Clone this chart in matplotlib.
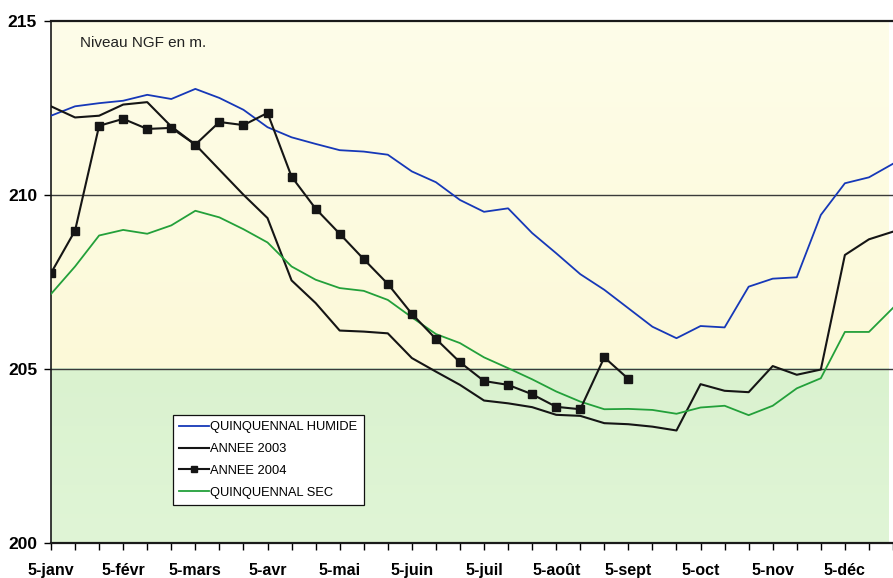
import matplotlib
matplotlib.use("Agg")
import matplotlib.pyplot as plt
import numpy as np
from matplotlib.colors import LinearSegmentedColormap

plt.rcParams['font.family'] = ['Liberation Sans', 'DejaVu Sans']

months = ["janv", "févr", "mars", "avr", "mai", "juin",
          "juil", "août", "sept", "oct", "nov", "déc"]
dates = [f"{d}-{m}" for m in months for d in (5, 15, 25)]
shown_labels = [f"5-{m}" for m in months]

humide = [212.28, 212.55, 212.64, 212.71, 212.88, 212.76, 213.05, 212.79, 212.45, 211.95,
          211.66, 211.47, 211.29, 211.25, 211.16, 210.68, 210.37, 209.86, 209.52, 209.62,
          208.91, 208.33, 207.73, 207.28, 206.75, 206.22, 205.89, 206.24, 206.20, 207.37,
          207.60, 207.64, 209.43, 210.34, 210.51, 210.90]
annee2003 = [212.55, 212.23, 212.28, 212.60, 212.67, 211.97, 211.45, 210.73, 210.01, 209.34,
             207.55, 206.90, 206.11, 206.08, 206.03, 205.32, 204.93, 204.55, 204.10, 204.02,
             203.91, 203.69, 203.66, 203.45, 203.42, 203.35, 203.24, 204.57, 204.38, 204.34,
             205.09, 204.84, 204.99, 208.28, 208.73, 208.95]
annee2004 = [207.76, 208.98, 211.99, 212.19, 211.90, 211.93, 211.45, 212.10, 212.01, 212.36,
             210.53, 209.61, 208.89, 208.16, 207.45, 206.59, 205.87, 205.20, 204.66, 204.55,
             204.28, 203.92, 203.85, 205.34, 204.72] + [np.nan] * 11
sec = [207.16, 207.95, 208.84, 209.00, 208.89, 209.13, 209.55, 209.36, 209.02, 208.64,
       207.95, 207.57, 207.33, 207.25, 206.99, 206.49, 206.01, 205.75, 205.34, 205.03,
       204.71, 204.36, 204.07, 203.85, 203.86, 203.83, 203.72, 203.90, 203.95, 203.68,
       203.95, 204.45, 204.74, 206.07, 206.07, 206.76]

W, H = 893, 578
fig = plt.figure(figsize=(W / 100, H / 100), dpi=100)
fig.patch.set_facecolor('white')
left = 51 / W
bottom = (H - 543.3) / H
top = (H - 21) / H
ax = fig.add_axes([left, bottom, 1 - left, top - bottom])

x = np.arange(len(dates))
xmax = (893 - 51) / 24.185
ax.set_xlim(0, xmax)
ax.set_ylim(200, 215)

# background bands
ycmap = LinearSegmentedColormap.from_list('y', ['#fcf9d8', '#fefde9'])
gcmap = LinearSegmentedColormap.from_list('g', ['#e0f5d6', '#daf2cf'])
grad = np.linspace(0, 1, 256).reshape(-1, 1)
ax.imshow(grad, cmap=ycmap, origin='lower', aspect='auto',
          extent=[0, xmax, 205, 215], zorder=0)
ax.imshow(grad, cmap=gcmap, origin='lower', aspect='auto',
          extent=[0, xmax, 200, 205], zorder=0)

for yv in (205, 210):
    ax.axhline(yv, color='#3a3a3a', lw=1.0, zorder=1)

l1, = ax.plot(x, humide, color='#1638b8', lw=1.3, zorder=3, label='QUINQUENNAL HUMIDE')
l2, = ax.plot(x, annee2003, color='#151515', lw=1.5, zorder=3, label='ANNEE 2003')
l3, = ax.plot(x, annee2004, color='#151515', lw=1.5, marker='s', ms=5.5, zorder=4,
              label='ANNEE 2004')
l4, = ax.plot(x, sec, color='#23a03a', lw=1.3, zorder=3, label='QUINQUENNAL SEC')

ax.set_xticks(x)
ax.set_xticklabels([d if d in shown_labels else '' for d in dates],
                   fontsize=11.5, fontweight='bold')
ax.set_yticks([200, 205, 210, 215])
ax.set_yticklabels(['200', '205', '210', '215'], fontsize=12.5, fontweight='bold')
ax.tick_params(axis='x', direction='out', length=5, width=1, pad=9)
ax.tick_params(axis='y', direction='out', length=5, width=1, pad=5)

for s in ('left', 'bottom', 'top'):
    ax.spines[s].set_color('#1a1a1a')
ax.spines['left'].set_linewidth(1.2)
ax.spines['bottom'].set_linewidth(1.6)
ax.spines['top'].set_linewidth(1.6)
ax.spines['right'].set_visible(False)

ax.text((80 - 51) / (W - 51), (543.3 - 43) / (543.3 - 21), 'Niveau NGF en m.',
        transform=ax.transAxes, fontsize=11, va='center', ha='left', color='#222222')

leg = ax.legend(handles=[l1, l2, l3, l4], loc='lower left',
                bbox_to_anchor=((173 - 51) / (W - 51), (543.3 - 505) / (543.3 - 21)),
                fontsize=9.3, frameon=True, fancybox=False, framealpha=1,
                edgecolor='#111111', facecolor='white', handlelength=2.3,
                handletextpad=0.1, borderpad=0.5, labelspacing=0.75,
                borderaxespad=0, markerscale=0.8)
leg.get_frame().set_linewidth(0.9)
leg.set_zorder(5)

fig.savefig('out.png', dpi=100)
